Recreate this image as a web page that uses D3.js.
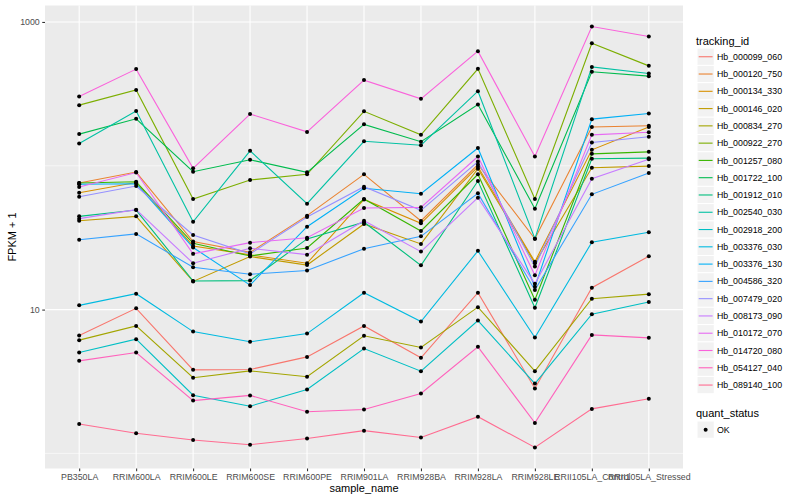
<!DOCTYPE html>
<html lang="en">
<head>
  <meta charset="UTF-8">
  <title>FPKM by sample</title>
  <script src="https://d3js.org/d3.v7.min.js"></script>
  <style>
    body { margin: 0; background: #fff; }
    text { font-family: "Liberation Sans", Arial, sans-serif; }
  </style>
</head>
<body>
  <div id="chart"></div>
  <script>
    // categories on the x axis
    var samples = ["PB350LA", "RRIM600LA", "RRIM600LE", "RRIM600SE", "RRIM600PE", "RRIM901LA",
      "RRIM928BA", "RRIM928LA", "RRIM928LE", "RRII105LA_Control", "RRII105LA_Stressed"];

    var trackingIds = ["Hb_000099_060", "Hb_000120_750", "Hb_000134_330", "Hb_000146_020", "Hb_000834_270",
      "Hb_000922_270", "Hb_001257_080", "Hb_001722_100", "Hb_001912_010", "Hb_002540_030",
      "Hb_002918_200", "Hb_003376_030", "Hb_003376_130", "Hb_004586_320", "Hb_007479_020",
      "Hb_008173_090", "Hb_010172_070", "Hb_014720_080", "Hb_054127_040", "Hb_089140_100"];

    // ggplot default hue palette for 20 groups
    var palette = ["#F8766D", "#EA8331", "#D89000", "#C09B00", "#A3A500", "#7CAE00", "#39B600", "#00BB4E",
      "#00BF7D", "#00C1A3", "#00BFC4", "#00BAE0", "#00B0F6", "#35A2FF", "#9590FF", "#C77CFF",
      "#E76BF3", "#FA62DB", "#FF62BC", "#FF6C91"];

    // FPKM + 1, one value per sample (same order as samples)
    var hb000099_060 = [6.60, 10.2, 3.81, 3.83, 4.69, 7.70, 4.62, 13.1, 2.83, 14.2, 23.5];
    var hb000120_750 = [75.9, 90.4, 29.7, 25.0, 45.0, 87.2, 41.3, 102, 31.1, 186, 190];
    var hb000134_330 = [64.9, 76.4, 27.7, 24.0, 21.0, 58.3, 39.8, 98.4, 21.5, 129, 186];
    var hb000146_020 = [41.5, 44.5, 15.7, 23.4, 20.4, 39.4, 28.6, 95.3, 21.0, 96.8, 99.5];
    var hb000834_270 = [6.13, 7.70, 3.36, 3.75, 3.41, 6.57, 5.45, 10.4, 3.73, 11.9, 12.8];
    var hb000922_270 = [264, 337, 58.7, 79.6, 87.2, 239, 164, 472, 58.7, 711, 495];
    var hb001257_080 = [75.9, 77.4, 28.9, 23.6, 26.8, 58.7, 35.2, 87.2, 11.7, 121, 125];
    var hb001722_100 = [166, 212, 90.9, 110, 90.0, 194, 147, 267, 50.3, 450, 420];
    var hb001912_010 = [44.5, 49.2, 15.8, 15.9, 31.0, 40.5, 20.3, 78.3, 10.3, 112, 113];
    var hb002540_030 = [143, 240, 40.8, 127, 54.5, 148, 139, 330, 31.1, 487, 438];
    var hb002918_200 = [5.03, 6.23, 2.54, 2.13, 2.78, 5.36, 3.73, 8.39, 3.06, 9.29, 11.3];
    var hb003376_030 = [10.7, 12.9, 7.03, 5.97, 6.81, 13.1, 8.25, 25.6, 6.39, 29.4, 34.5];
    var hb003376_130 = [74.3, 75.0, 27.0, 14.8, 37.7, 69.7, 63.9, 133, 14.4, 211, 231];
    var hb004586_320 = [30.6, 33.6, 19.7, 17.6, 18.7, 26.5, 32.3, 64.3, 13.7, 63.3, 89.0];
    var hb007479_020 = [60.9, 72.3, 33.0, 24.4, 44.0, 71.5, 49.0, 107, 19.9, 145, 159];
    var hb008173_090 = [42.9, 49.5, 21.0, 26.7, 24.1, 41.5, 25.3, 60.0, 15.1, 81.2, 111];
    var hb010172_070 = [71.1, 89.7, 24.4, 29.2, 31.6, 50.8, 51.4, 116, 17.3, 164, 171];
    var hb014720_080 = [303, 470, 96, 229, 172, 394, 292, 626, 116, 929, 792];
    var hb054127_040 = [4.40, 5.03, 2.33, 2.53, 1.95, 2.02, 2.61, 5.51, 1.63, 6.67, 6.36];
    var hb089140_100 = [1.60, 1.38, 1.24, 1.15, 1.27, 1.44, 1.29, 1.80, 1.10, 2.04, 2.40];

    var seriesValues = [hb000099_060, hb000120_750, hb000134_330, hb000146_020, hb000834_270,
      hb000922_270, hb001257_080, hb001722_100, hb001912_010, hb002540_030,
      hb002918_200, hb003376_030, hb003376_130, hb004586_320, hb007479_020,
      hb008173_090, hb010172_070, hb014720_080, hb054127_040, hb089140_100];

    var yBreaks = [10, 1000];
    var yMinor = [1, 100];
    var quantStatus = ["OK"];

    // panel box
    var W = 800, H = 500;
    var panel = { left: 45, right: 683, top: 5.5, bottom: 468.5 };

    var svg = d3.select("#chart").append("svg")
      .attr("width", W).attr("height", H);

    // build the series table
    var series = trackingIds.map(function (id, i) {
      return { id: id, color: palette[i], values: seriesValues[i].map(function (v, j) { return { sample: samples[j], v: v }; }) };
    });

    var x = d3.scalePoint()
      .domain(samples)
      .range([panel.left, panel.right])
      .padding(0.6);

    // log scale with ggplot-like 5% expansion
    var allVals = d3.merge(seriesValues);
    var lo = Math.log10(d3.min(allVals)), hi = Math.log10(d3.max(allVals));
    var pad = (hi - lo) * 0.05;
    var y = d3.scaleLog()
      .domain([Math.pow(10, lo - pad), Math.pow(10, hi + pad)])
      .range([panel.bottom, panel.top]);

    // panel background
    svg.append("rect")
      .attr("x", panel.left).attr("y", panel.top)
      .attr("width", panel.right - panel.left).attr("height", panel.bottom - panel.top)
      .attr("fill", "#EBEBEB");

    // minor grid
    svg.selectAll(".minor").data(yMinor).enter().append("line")
      .attr("x1", panel.left).attr("x2", panel.right)
      .attr("y1", function (d) { return y(d); }).attr("y2", function (d) { return y(d); })
      .attr("stroke", "#fff").attr("stroke-width", 0.55);

    // major grid
    svg.selectAll(".major").data(yBreaks).enter().append("line")
      .attr("x1", panel.left).attr("x2", panel.right)
      .attr("y1", function (d) { return y(d); }).attr("y2", function (d) { return y(d); })
      .attr("stroke", "#fff").attr("stroke-width", 1.1);

    svg.selectAll(".vgrid").data(samples).enter().append("line")
      .attr("x1", function (d) { return x(d); }).attr("x2", function (d) { return x(d); })
      .attr("y1", panel.top).attr("y2", panel.bottom)
      .attr("stroke", "#fff").attr("stroke-width", 1.1);

    // lines
    var line = d3.line()
      .x(function (d) { return x(d.sample); })
      .y(function (d) { return y(d.v); });

    svg.selectAll(".series").data(series).enter().append("path")
      .attr("d", function (d) { return line(d.values); })
      .attr("fill", "none")
      .attr("stroke", function (d) { return d.color; })
      .attr("stroke-width", 1.1);

    // points
    series.forEach(function (s) {
      svg.selectAll(null).data(s.values).enter().append("circle")
        .attr("cx", function (d) { return x(d.sample); })
        .attr("cy", function (d) { return y(d.v); })
        .attr("r", 2)
        .attr("fill", "#000");
    });

    // y axis
    var yAxis = d3.axisLeft(y).tickValues(yBreaks).tickFormat(d3.format("d")).tickSize(2.75).tickPadding(2.5);
    var gy = svg.append("g").attr("transform", "translate(" + panel.left + ",0)").call(yAxis);
    gy.select(".domain").remove();
    gy.selectAll("line").attr("stroke", "#333333").attr("stroke-width", 1.07);
    gy.selectAll("text").attr("fill", "#4D4D4D").style("font-size", "8.8px")
      .style("font-family", "Liberation Sans, Arial, sans-serif");

    // x axis
    var xAxis = d3.axisBottom(x).tickSize(2.75).tickPadding(2.5);
    var gx = svg.append("g").attr("transform", "translate(0," + panel.bottom + ")").call(xAxis);
    gx.select(".domain").remove();
    gx.selectAll("line").attr("stroke", "#333333").attr("stroke-width", 1.07);
    gx.selectAll("text").attr("fill", "#4D4D4D").style("font-size", "8.8px")
      .style("font-family", "Liberation Sans, Arial, sans-serif");

    // axis titles
    svg.append("text")
      .attr("x", (panel.left + panel.right) / 2).attr("y", 492)
      .attr("text-anchor", "middle").style("font-size", "11px").attr("fill", "#000")
      .text("sample_name");

    svg.append("text")
      .attr("transform", "translate(16," + (panel.top + panel.bottom) / 2 + ") rotate(-90)")
      .attr("text-anchor", "middle").style("font-size", "11px").attr("fill", "#000")
      .text("FPKM + 1");

    // legend: tracking_id
    var keySize = 17.28, lx = 697, ly = 48.1;
    svg.append("text").attr("x", 696).attr("y", 44.5)
      .style("font-size", "11px").attr("fill", "#000").text("tracking_id");

    var leg = svg.selectAll(".leg").data(series).enter().append("g")
      .attr("transform", function (d, i) { return "translate(" + lx + "," + (ly + i * keySize) + ")"; });
    leg.append("rect").attr("width", keySize).attr("height", keySize)
      .attr("fill", "#F2F2F2").attr("stroke", "#fff").attr("stroke-width", 1);
    leg.append("line")
      .attr("x1", 1.7).attr("x2", keySize - 1.7)
      .attr("y1", keySize / 2).attr("y2", keySize / 2)
      .attr("stroke", function (d) { return d.color; }).attr("stroke-width", 1.1);
    leg.append("text")
      .attr("x", keySize + 2.7).attr("y", keySize / 2 + 3.1)
      .style("font-size", "8.8px").attr("fill", "#000")
      .text(function (d) { return d.id; });

    // legend: quant_status
    svg.append("text").attr("x", 696).attr("y", 416.5)
      .style("font-size", "11px").attr("fill", "#000").text("quant_status");
    var leg2 = svg.selectAll(".leg2").data(quantStatus).enter().append("g")
      .attr("transform", "translate(" + lx + ",421)");
    leg2.append("rect").attr("width", keySize).attr("height", keySize)
      .attr("fill", "#F2F2F2").attr("stroke", "#fff").attr("stroke-width", 1);
    leg2.append("circle").attr("cx", keySize / 2).attr("cy", keySize / 2).attr("r", 2).attr("fill", "#000");
    leg2.append("text")
      .attr("x", keySize + 2.7).attr("y", keySize / 2 + 3.1)
      .style("font-size", "8.8px").attr("fill", "#000")
      .text(function (d) { return d; });
  </script>
</body>
</html>
